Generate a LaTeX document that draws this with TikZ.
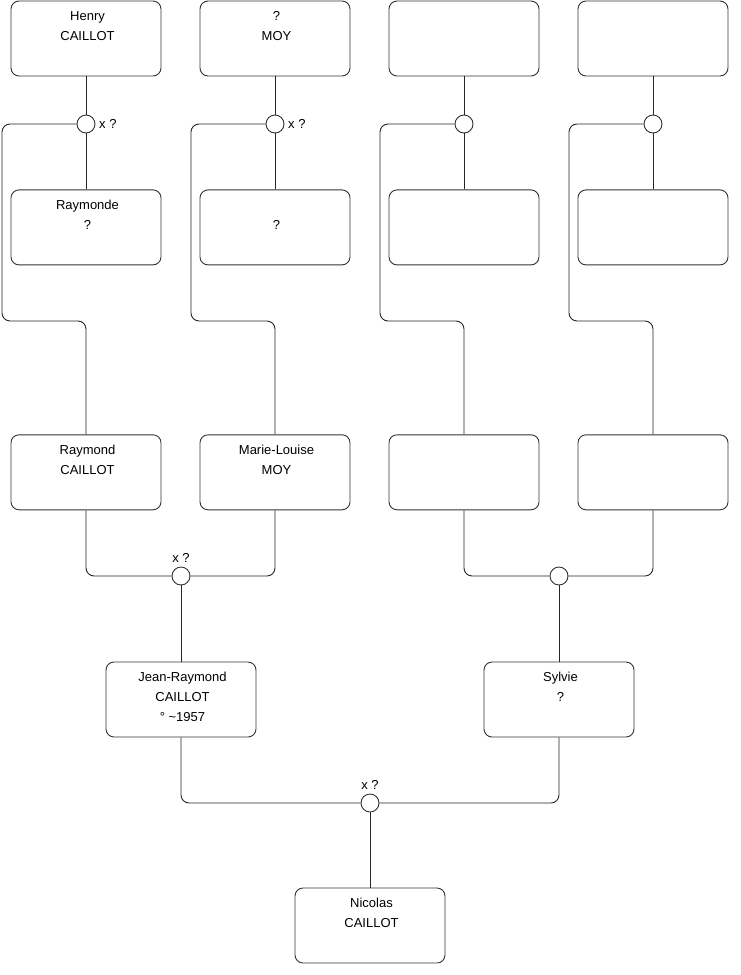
\documentclass[tikz,border=0pt]{standalone}
\usepackage{fontspec}
\setmainfont{Liberation Sans}
\usetikzlibrary{positioning}

\begin{document}
\begin{tikzpicture}[
      x=1pt,y=-1pt,
      line width=0.9pt,
      font=\fontsize{13}{20}\selectfont,
      pbox/.style={draw=black!80,rounded corners=8pt,fill=white,
                  minimum width=150pt,minimum height=75pt,inner sep=0pt},
      who/.style={label={[align=center,anchor=north,yshift=-7pt,xshift=1.5pt]north:{#1}}},
      union/.style={circle,draw=black!80,fill=white,minimum size=18pt,inner sep=0pt},
      link/.style={draw=black!85,rounded corners=8pt}
    ]
    \useasboundingbox (0,0) rectangle (740,975);

    % grand-parents
    \node[pbox,who={Henry\\CAILLOT}] (henry) at (86,38.5) {};
    \node[pbox,who={?\\MOY}] (moyf) at (275,38.5) {};
    \node[pbox] (gp3) at (464,38.5) {};
    \node[pbox] (gp4) at (653,38.5) {};

    % their partners
    \node[pbox,below=113pt of henry,who={Raymonde\\?}] (raymonde) {};
    \node[pbox,below=113pt of moyf,who={\vphantom{H}\\?}] (moym) {};
    \node[pbox,below=113pt of gp3] (gm3) {};
    \node[pbox,below=113pt of gp4] (gm4) {};

    % parents
    \node[pbox,below=169pt of raymonde,who={Raymond\\CAILLOT}] (raymond) {};
    \node[pbox,below=169pt of moym,who={Marie-Louise\\MOY}] (marie) {};
    \node[pbox,below=169pt of gm3] (p3) {};
    \node[pbox,below=169pt of gm4] (p4) {};

    \node[pbox,who={Jean-Raymond\\CAILLOT\\° \textasciitilde1957}] (jr) at (181,699.5) {};
    \node[pbox,who={Sylvie\\?}] (sylvie) at (559,699.5) {};
    \node[pbox,who={Nicolas\\CAILLOT}] (nicolas) at (370,925.5) {};

    % unions
    \node[union,label={right:x ?}] (u1) at (henry.south |- 0,124) {};
    \node[union,label={right:x ?}] (u2) at (moyf.south |- 0,124) {};
    \node[union] (u3) at (gp3.south |- 0,124) {};
    \node[union] (u4) at (gp4.south |- 0,124) {};
    \node[union,label={above:x ?}] (m1) at (jr.north |- 0,576) {};
    \node[union] (m2) at (sylvie.north |- 0,576) {};
    \node[union,label={above:x ?}] (m3) at (nicolas.north |- 0,803) {};

    \coordinate (b1) at (2,321);
    \coordinate (b2) at (191,321);
    \coordinate (b3) at (380,321);
    \coordinate (b4) at (569,321);

    \draw[link] (henry) -- (u1) -- (raymonde);
    \draw[link] (moyf) -- (u2) -- (moym);
    \draw[link] (gp3) -- (u3) -- (gm3);
    \draw[link] (gp4) -- (u4) -- (gm4);

    \draw[link] (u1.west) -| (b1) -| (raymond.north);
    \draw[link] (u2.west) -| (b2) -| (marie.north);
    \draw[link] (u3.west) -| (b3) -| (p3.north);
    \draw[link] (u4.west) -| (b4) -| (p4.north);

    \draw[link] (raymond.south) |- (m1.west);
    \draw[link] (marie.south) |- (m1.east);
    \draw[link] (p3.south) |- (m2.west);
    \draw[link] (p4.south) |- (m2.east);
    \draw[link] (m1) -- (jr);
    \draw[link] (m2) -- (sylvie);

    \draw[link] (jr.south) |- (m3.west);
    \draw[link] (sylvie.south) |- (m3.east);
    \draw[link] (m3) -- (nicolas);
  \end{tikzpicture}
\end{document}
